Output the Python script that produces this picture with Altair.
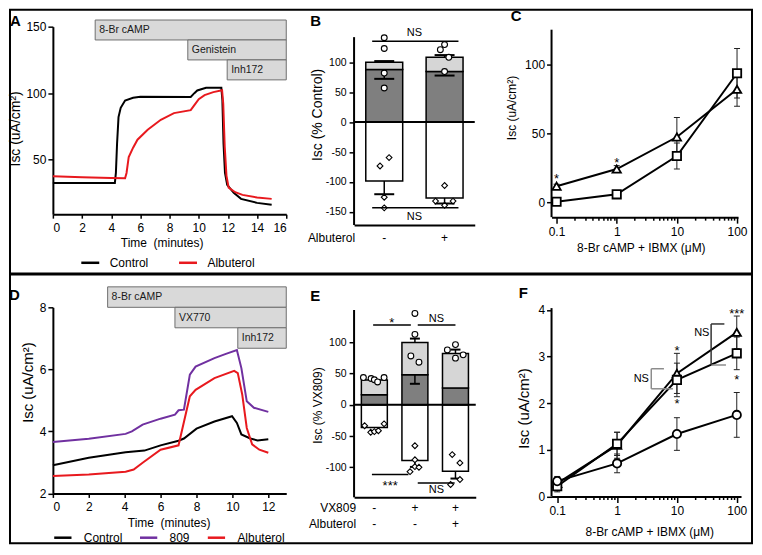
import altair as alt
import pandas as pd

FONT = "Liberation Sans"
RED = "#e8191e"
PURPLE = "#7030a0"
BAR_DARK = "#7f7f7f"
BAR_LIGHT = "#d6d6d6"
BOX_FILL = "#d9d9d9"
BOX_LINE = "#6e6e6e"

# ---------------- Panel A : traces ----------------
a_ctrl_t = [0, 4.25, 4.32, 4.4, 4.5, 4.65, 4.95, 5.5, 6.0, 9.45, 9.7, 9.9, 10.5, 11.55, 11.62, 11.7, 11.8, 11.95, 12.4, 12.9, 14.0, 15.0]
a_ctrl_v = [32.5, 32.5, 40, 62, 82, 89, 94.5, 96.5, 97.3, 97.2, 100, 102, 104, 104, 95, 62, 40, 31, 25, 20.5, 17.5, 16]
a_alb_t = [0, 2, 4, 4.95, 5.05, 5.2, 5.5, 5.8, 6.5, 7.4, 8.3, 9.45, 9.7, 10.0, 10.4, 11.0, 11.6, 11.68, 11.78, 11.9, 12.05, 12.5, 13, 14, 15]
a_alb_v = [37.5, 36.8, 36.2, 36, 40, 52, 59, 65, 72.5, 80, 85, 87.2, 91, 95.5, 98.5, 100.8, 102.2, 92, 60, 38, 29, 25.5, 23.5, 21.5, 20.5]
a_series = ["Control", "Albuterol"]
a_drugs = ["8-Br cAMP", "Genistein", "Inh172"]
a_drug_on = [2.9, 9.25, 11.95]
a_drug_off = [16, 16, 16]

# ---------------- Panel D : traces ----------------
d_ctrl_t = [0, 2, 4.05, 5.1, 6, 7, 7.3, 8, 9, 9.98, 10.25, 10.5, 11, 11.4, 12]
d_ctrl_v = [2.91, 3.15, 3.33, 3.38, 3.55, 3.70, 3.77, 4.09, 4.32, 4.49, 4.27, 3.90, 3.77, 3.71, 3.75]
d_809_t = [0, 2, 4.05, 4.4, 5.0, 6, 6.8, 7.0, 7.3, 7.63, 7.95, 9, 9.6, 10.25, 10.5, 10.8, 11.2, 12]
d_809_v = [3.66, 3.76, 3.92, 4.0, 4.22, 4.41, 4.54, 4.68, 4.70, 5.83, 6.09, 6.36, 6.49, 6.62, 6.04, 4.97, 4.76, 4.63]
d_alb_t = [0, 2, 4.05, 4.5, 5.0, 6, 7.0, 7.63, 7.95, 9, 10.1, 10.3, 10.55, 10.8, 11.1, 11.5, 12]
d_alb_v = [2.56, 2.61, 2.70, 2.77, 2.99, 3.41, 3.55, 5.13, 5.34, 5.72, 5.95, 5.88, 5.18, 4.11, 3.58, 3.41, 3.31]
d_series = ["Control", "809", "Albuterol"]
d_drugs = ["8-Br cAMP", "VX770", "Inh172"]
d_drug_on = [3.05, 6.8, 10.3]
d_drug_off = [13, 13, 13]

# ---------------- Panel B : stacked bars ----------------
b_albuterol = ["-", "+"]
b_light = [100, 108.5]
b_dark = [88, 84.5]
b_neg = [-98.3, -126.7]
b_light_err = [102, 112]
b_dark_err = [72.3, 77.8]
b_neg_err = [-120.5, -136]
b_circ_grp = [0, 0, 0, 0, 1, 1, 1, 1]
b_circ_val = [141, 123, 82, 57, 129.5, 121, 108.3, 84.5]
b_circ_jit = [0, 0, 0, 0, 0, -0.07, 0.07, 0]
b_diam_grp = [0, 0, 0, 0, 1, 1, 1, 1]
b_diam_val = [-59.3, -73.3, -125.5, -143.3, -106, -132, -132, -139]
b_diam_jit = [0.08, -0.07, 0, 0, 0, -0.15, 0.14, 0]
b_sig_label = ["NS", "NS"]
b_sig_y = [135, -143.3]
b_sig_from = [-0.2, -0.2]
b_sig_to = [1.23, 1.23]
b_sig_text_y = [149, -158]

# ---------------- Panel E : stacked bars ----------------
e_vx809 = ["-", "+", "+"]
e_albuterol = ["-", "-", "+"]
e_light = [39.4, 99.6, 81.8]
e_dark = [16, 47.9, 26.6]
e_neg = [-36.2, -89.3, -106.4]
e_light_err = [None, 105.8, 88.2]
e_dark_err = [None, 33.5, None]
e_neg_err = [None, -99.4, -118]
e_circ_grp = [0, 0, 0, 0, 0, 1, 1, 1, 1, 2, 2, 2, 2]
e_circ_val = [43.5, 42, 40, 36.5, 43.5, 146, 112.6, 78, 68, 96.2, 87.7, 79.8, 74.5]
e_circ_jit = [-0.27, -0.08, 0.0, 0.08, 0.24, 0, 0, -0.1, 0.1, 0, -0.2, 0.19, 0]
e_diam_grp = [0, 0, 0, 0, 0, 1, 1, 1, 1, 1, 2, 2, 2, 2]
e_diam_val = [-33.5, -44, -43, -41.5, -30.5, -65.5, -88, -99, -107, -100, -79.7, -93, -119.6, -127.6]
e_diam_jit = [-0.24, -0.09, 0.0, 0.1, 0.24, 0, 0, 0, -0.12, 0.1, -0.08, 0.11, 0.11, -0.12]
e_sig_label = ["*", "NS", "***", "NS"]
e_sig_from = [-0.03, 1.07, -0.06, 1.07]
e_sig_to = [0.9, 2.0, 0.84, 1.98]
e_sig_y = [127.6, 127.6, -111.6, -125]
e_sig_text_x = [0.43, 1.53, 0.39, 1.53]
e_sig_text_y = [137, 137, -124, -137]

# ---------------- Panel C : dose response ----------------
conc = [0.1, 1, 10, 100]
c_tri = [11.5, 24, 47.3, 82]
c_tri_err = [1.5, 2.5, 14.3, 12.3]
c_sq = [0.2, 5.6, 33.5, 93.7]
c_sq_err = [0.8, 1.0, 9.5, 18]
c_star_x = [0.1, 1]
c_star_y = [19.5, 31.5]
c_star_label = ["*", "*"]

# ---------------- Panel F : dose response ----------------
f_tri = [0.28, 1.1, 2.64, 3.52]
f_tri_err = [0.1, 0.28, 0.43, 0.35]
f_sq = [0.22, 1.13, 2.5, 3.07]
f_sq_err = [0.12, 0.25, 0.36, 0.35]
f_circ = [0.33, 0.71, 1.34, 1.75]
f_circ_err = [0.1, 0.2, 0.35, 0.48]
f_star_x = [100, 10, 10, 100]
f_star_y = [4.0, 3.2, 2.07, 2.59]
f_star_label = ["***", "*", "*", "*"]
f_br_gray_x1 = [3.73, 3.73, 3.73, 37.3]
f_br_gray_x2 = [3.73, 6.07, 8.58, 66.0]
f_br_gray_y1 = [2.31, 2.74, 2.31, 2.82]
f_br_gray_y2 = [2.74, 2.74, 2.31, 2.82]
f_br_dark_x1 = [37.3, 37.3]
f_br_dark_x2 = [37.3, 62.1]
f_br_dark_y1 = [2.82, 3.70]
f_br_dark_y2 = [3.70, 3.70]
f_ns_x = [3.41, 34.9]
f_ns_y = [2.52, 3.50]

# ---------------- layout constants (plot areas) ----------------
A_W, A_H = 234, 188
B_W, B_H = 121, 198.9
C_W, C_H = 187, 191
D_W, D_H = 234, 186.6
E_W, E_H = 122, 190.5
F_W, F_H = 190, 189.7

ONE = pd.DataFrame({"k": [0]})
MINUS_FIX = "replace(datum.label, '\u2212', '-')"


def ax(**kw):
    base = dict(labelFont=FONT, titleFont=FONT, labelFontSize=12, titleFontSize=12,
                domainColor="black", domainWidth=2, tickColor="black", tickWidth=1.5,
                tickSize=5, labelColor="black", titleColor="black",
                titleFontWeight="normal", grid=False, labelPadding=2,
                titleBaseline="middle", titleAlign="center")
    base.update(kw)
    return alt.Axis(**base)


def letter(txt, x, y):
    return alt.Chart(pd.DataFrame({"l": [txt]})).mark_text(
        align="left", baseline="alphabetic", fontSize=15, fontWeight="bold",
        font=FONT, color="black").encode(text="l:N", x=alt.value(x), y=alt.value(y))


def spacer(w, h):
    return alt.Chart(ONE).mark_point(opacity=0).encode(
        x=alt.value(0), y=alt.value(0)).properties(width=w, height=h)


def yaxis_line(lo, hi, ys, ya):
    d = pd.DataFrame({"lo": [lo], "hi": [hi]})
    return alt.Chart(d).mark_rule(strokeWidth=2, color="black").encode(
        x=alt.value(0), y=alt.Y("lo:Q", scale=ys, axis=ya), y2="hi:Q")


# ---------------- trace panels ----------------
def trace_panel(series, ts, vs, colors, legend, drugs, on, off, xdom, xticks,
                ydom, yticks, ytitle, box_top, box_h, xa_kw, ya_kw, lab):
    rows = []
    for name, t, v in zip(series, ts, vs):
        for i, (tt, vv) in enumerate(zip(t, v)):
            rows.append({"t": tt, "v": vv, "s": name, "i": i})
    df = pd.DataFrame(rows)
    bx = pd.DataFrame({"drug": drugs, "on": on, "off": off, "row": list(range(len(drugs)))})
    xs = alt.Scale(domain=xdom, nice=False, zero=False)
    ys = alt.Scale(domain=ydom, nice=False, zero=False)
    xa = ax(values=xticks, title="Time\u00a0 (minutes)", tickSize=4, labelPadding=4, **xa_kw)
    ya = ax(values=yticks, title=ytitle, **ya_kw)
    base = alt.Chart(bx).transform_calculate(
        top=f"{box_top} - {box_h} * datum.row",
        bot=f"{box_top} - {box_h} * (datum.row + 1)",
        mid=f"{box_top} - {box_h} * (datum.row + 0.5)")
    rect = base.mark_rect(fill=BOX_FILL, stroke=BOX_LINE, strokeWidth=1).encode(
        x=alt.X("on:Q", scale=xs, axis=xa), x2="off:Q",
        y=alt.Y("top:Q", scale=ys, axis=ya), y2="bot:Q")
    txt = base.mark_text(align="left", baseline="middle", dx=4, fontSize=10.5,
                         font=FONT, color="#1a1a1a").encode(
        x=alt.X("on:Q", scale=xs, axis=xa), y=alt.Y("mid:Q", scale=ys, axis=ya),
        text="drug:N")
    lines = alt.Chart(df).mark_line(strokeWidth=2).encode(
        x=alt.X("t:Q", scale=xs, axis=xa), y=alt.Y("v:Q", scale=ys, axis=ya),
        color=alt.Color("s:N", scale=alt.Scale(domain=series, range=colors), legend=legend),
        order="i:Q")
    return [rect, txt, lines, lab]


legA = alt.Legend(orient="none", legendX=27, legendY=226, direction="horizontal", title=None,
                  symbolType="stroke", symbolStrokeWidth=2.5, symbolSize=324,
                  labelFontSize=12, labelFont=FONT, labelColor="black",
                  columnPadding=25, labelOffset=9, padding=0)
legD = alt.Legend(orient="none", legendX=0, legendY=221, direction="horizontal", title=None,
                  symbolType="stroke", symbolStrokeWidth=2.5, symbolSize=300,
                  labelFontSize=12, labelFont=FONT, labelColor="black",
                  columnPadding=12, labelOffset=11, padding=0)

frame = alt.Chart(ONE).mark_rect(fill="transparent", stroke="black", strokeWidth=2).encode(
    x=alt.value(-43), x2=alt.value(701), y=alt.value(-17), y2=alt.value(518))
divider = alt.Chart(ONE).mark_rule(strokeWidth=3, color="black").encode(
    x=alt.value(-43), x2=alt.value(701), y=alt.value(248))

layersA = trace_panel(a_series, [a_ctrl_t, a_alb_t], [a_ctrl_v, a_alb_v], ["black", RED], legA,
                      a_drugs, a_drug_on, a_drug_off, [0, 16], list(range(0, 17, 2)),
                      [9, 150], [50, 100, 150], "Isc (uA/cm\u00b2)", 155, 15,
                      dict(titleX=109, titleY=28),
                      dict(titleX=-37, titleY=102, titleFontSize=14),
                      letter("A", -43, -1))
panelA = alt.layer(frame, divider, *layersA).properties(width=A_W, height=A_H)

layersD = trace_panel(d_series, [d_ctrl_t, d_809_t, d_alb_t], [d_ctrl_v, d_809_v, d_alb_v],
                      ["black", PURPLE, RED], legD,
                      d_drugs, d_drug_on, d_drug_off, [0, 13], list(range(0, 13, 2)),
                      [2, 8], [2, 4, 6, 8], "Isc (uA/cm\u00b2)", 8.66, 0.66,
                      dict(titleX=116, titleY=29.5),
                      dict(titleX=-25, titleY=75, titleFontSize=15),
                      letter("D", -44, -7))
panelD = alt.layer(*layersD).properties(width=D_W, height=D_H)


# ---------------- bar panels ----------------
def bar_panel(n, light, dark, neg, le, de, ne, cgrp, cval, cjit, dgrp, dval, djit,
              sig_from, sig_to, sig_y, sig_lab, sig_tx, sig_ty, ydom, axis_hi, yticks,
              w, h, hw, cap, ya_kw, lab, row_labels, row_ys, right_x):
    xs = alt.Scale(domain=[-0.5, n - 0.5], nice=False, zero=False)
    ys = alt.Scale(domain=ydom, nice=False, zero=False)
    xa = ax(title=None, labels=False, ticks=False)
    ya = ax(values=yticks, labelExpr=MINUS_FIX, domain=False, labelPadding=3, **ya_kw)
    bars = pd.DataFrame({"g": list(range(n)), "light": light, "dark": dark, "neg": neg,
                         "le": le, "de": de, "ne": ne, "zero": [0] * n})
    bb = alt.Chart(bars).transform_calculate(x1=f"datum.g - {hw}", x2=f"datum.g + {hw}")
    X1 = alt.X("x1:Q", scale=xs, axis=xa)
    G = alt.X("g:Q", scale=xs, axis=xa)

    def Y(f):
        return alt.Y(f, scale=ys, axis=ya)

    layers = [
        bb.mark_rect(fill="white", stroke="black", strokeWidth=1.5).encode(x=X1, x2="x2:Q", y=Y("zero:Q"), y2="neg:Q"),
        bb.mark_rect(fill=BAR_DARK, stroke="black", strokeWidth=1.5).encode(x=X1, x2="x2:Q", y=Y("zero:Q"), y2="dark:Q"),
        bb.mark_rect(fill=BAR_LIGHT, stroke="black", strokeWidth=1.5).encode(x=X1, x2="x2:Q", y=Y("dark:Q"), y2="light:Q"),
    ]
    for m, e in (("light", "le"), ("dark", "de"), ("neg", "ne")):
        layers.append(bb.mark_rule(strokeWidth=1.5, color="black").encode(x=G, y=Y(f"{m}:Q"), y2=f"{e}:Q"))
        layers.append(bb.mark_tick(orient="horizontal", size=cap, thickness=2, color="black", opacity=1).encode(x=G, y=Y(f"{e}:Q")))
    zero = pd.DataFrame({"z": [0]})
    layers.append(alt.Chart(zero).mark_rule(strokeWidth=2, color="black").encode(
        y=Y("z:Q"), x=alt.value(0), x2=alt.value(w)))
    layers.append(yaxis_line(ydom[0], axis_hi, ys, ya))
    circ = pd.DataFrame({"g": cgrp, "v": cval, "j": cjit})
    diam = pd.DataFrame({"g": dgrp, "v": dval, "j": djit})
    for d, shp in ((circ, "circle"), (diam, "diamond")):
        layers.append(alt.Chart(d).transform_calculate(xp="datum.g + datum.j").mark_point(
            shape=shp, filled=True, fill="white", stroke="black", strokeWidth=1.1,
            size=34, opacity=1).encode(x=alt.X("xp:Q", scale=xs, axis=xa), y=Y("v:Q")))
    sig = pd.DataFrame({"a": sig_from, "b": sig_to, "y": sig_y, "lab": sig_lab,
                        "tx": sig_tx, "ty": sig_ty})
    layers.append(alt.Chart(sig).mark_rule(strokeWidth=1.5, color="black").encode(
        x=alt.X("a:Q", scale=xs, axis=xa), x2="b:Q", y=Y("y:Q")))
    layers.append(alt.Chart(sig).transform_filter("datum.lab == 'NS'").mark_text(
        fontSize=11, font=FONT, baseline="middle", color="black").encode(
        x=alt.X("tx:Q", scale=xs, axis=xa), y=Y("ty:Q"), text="lab:N"))
    layers.append(alt.Chart(sig).transform_filter("datum.lab != 'NS'").mark_text(
        fontSize=13, font=FONT, baseline="middle", dy=4, color="black").encode(
        x=alt.X("tx:Q", scale=xs, axis=xa), y=Y("ty:Q"), text="lab:N"))
    for (title, labels), yy in zip(row_labels, row_ys):
        layers.append(alt.Chart(pd.DataFrame({"t": [title]})).mark_text(
            align="right", baseline="middle", fontSize=12, font=FONT, color="black").encode(
            text="t:N", x=alt.value(right_x), y=alt.value(yy)))
        layers.append(alt.Chart(pd.DataFrame({"g": list(range(n)), "s": labels})).mark_text(
            baseline="middle", fontSize=12, font=FONT, color="black").encode(
            x=G, text="s:N", y=alt.value(yy)))
    layers.append(lab)
    return alt.layer(*layers).properties(width=w, height=h)


# B plot starts 10.5 px lower than A: extend the domain upward and draw the axis line itself
panelB = bar_panel(2, b_light, b_dark, b_neg, b_light_err, b_dark_err, b_neg_err,
                   b_circ_grp, b_circ_val, b_circ_jit, b_diam_grp, b_diam_val, b_diam_jit,
                   b_sig_from, b_sig_to, b_sig_y, b_sig_label, [0.5, 0.5], b_sig_text_y,
                   [-172, 159.5], 142, [-150, -100, -50, 0, 50, 100], B_W, B_H, 0.306, 20,
                   dict(title="Isc (% Control)", titleX=-37, titleY=88, titleFontSize=14,
                        labelFontSize=10.5),
                   letter("B", -44, -1), [("Albuterol", b_albuterol)], [212.3], 1)

panelE = bar_panel(3, e_light, e_dark, e_neg, e_light_err, e_dark_err, e_neg_err,
                   e_circ_grp, e_circ_val, e_circ_jit, e_diam_grp, e_diam_val, e_diam_jit,
                   e_sig_from, e_sig_to, e_sig_y, e_sig_label, e_sig_text_x, e_sig_text_y,
                   [-148, 155.8], 151.5, [-100, -50, 0, 50, 100], E_W, E_H, 0.32, 10,
                   dict(title="Isc (% VX809)", titleX=-37, titleY=98, titleFontSize=12,
                        labelFontSize=10.5),
                   letter("E", -44, -6.3),
                   [("VX809", e_vx809), ("Albuterol", e_albuterol)], [201, 217], 2)


# ---------------- dose-response panels ----------------
LOG_TICKS = [round(m * 10 ** e, 4) for e in (-1, 0, 1) for m in range(1, 10)] + [100]
MAJOR = "indexof([0.1, 1, 10, 100], datum.value) >= 0"


def dose_panel(series, shapes, vals, errs, xdom, ydom, axis_hi, yticks, w, h, xa_kw, ya_kw,
               stars, lab, extra=None):
    rows = []
    for s, v, e in zip(series, vals, errs):
        for c, vv, ee in zip(conc, v, e):
            rows.append({"c": c, "v": vv, "lo": vv - ee, "hi": vv + ee, "s": s})
    df = pd.DataFrame(rows)
    xs = alt.Scale(type="log", domain=xdom, nice=False)
    ys = alt.Scale(domain=ydom, nice=False, zero=False)
    xa = ax(values=LOG_TICKS, title="8-Br cAMP + IBMX (\u03bcM)",
            labelExpr=f"{MAJOR} ? datum.value : ''", labelPadding=3,
            tickSize={"condition": {"test": MAJOR, "value": 6}, "value": 3}, **xa_kw)
    ya = ax(values=yticks, title="Isc (uA/cm\u00b2)", domain=False, **ya_kw)
    X = alt.X("c:Q", scale=xs, axis=xa)
    base = alt.Chart(df)
    layers = [
        yaxis_line(ydom[0], axis_hi, ys, ya),
        base.mark_rule(strokeWidth=1, color="#222222").encode(x=X, y=alt.Y("lo:Q", scale=ys, axis=ya), y2="hi:Q"),
        base.mark_tick(orient="horizontal", size=6, thickness=1, color="#222222", opacity=1).encode(x=X, y=alt.Y("lo:Q", scale=ys, axis=ya)),
        base.mark_tick(orient="horizontal", size=6, thickness=1, color="#222222", opacity=1).encode(x=X, y=alt.Y("hi:Q", scale=ys, axis=ya)),
        base.mark_line(strokeWidth=2, color="black").encode(x=X, y=alt.Y("v:Q", scale=ys, axis=ya), detail="s:N"),
    ]
    if extra is not None:
        layers.extend(extra(xs, xa, ys, ya))
    layers.append(base.mark_point(filled=True, fill="white", stroke="black", strokeWidth=1.8,
                                  size=70, opacity=1).encode(
        x=X, y=alt.Y("v:Q", scale=ys, axis=ya),
        shape=alt.Shape("s:N", scale=alt.Scale(domain=series, range=shapes), legend=None)))
    sx, sy, sl = stars
    st = pd.DataFrame({"x": sx, "y": sy, "l": sl})
    layers.append(alt.Chart(st).mark_text(fontSize=13, font=FONT, baseline="middle", dy=4,
                                          color="black").encode(
        x=alt.X("x:Q", scale=xs, axis=xa), y=alt.Y("y:Q", scale=ys, axis=ya), text="l:N"))
    layers.append(lab)
    return alt.layer(*layers).properties(width=w, height=h)


def f_brackets(xs, xa, ys, ya):
    out = []
    for x1, x2, y1, y2, col in ((f_br_gray_x1, f_br_gray_x2, f_br_gray_y1, f_br_gray_y2, "#8c8c8c"),
                                (f_br_dark_x1, f_br_dark_x2, f_br_dark_y1, f_br_dark_y2, "#333333")):
        br = pd.DataFrame({"x1": x1, "x2": x2, "y1": y1, "y2": y2})
        out.append(alt.Chart(br).mark_rule(strokeWidth=1.5, color=col).encode(
            x=alt.X("x1:Q", scale=xs, axis=xa), x2="x2:Q",
            y=alt.Y("y1:Q", scale=ys, axis=ya), y2="y2:Q"))
    ns = pd.DataFrame({"x": f_ns_x, "y": f_ns_y, "l": ["NS", "NS"]})
    out.append(alt.Chart(ns).mark_text(fontSize=11, font=FONT, align="right", baseline="middle",
                                       color="black").encode(
        x=alt.X("x:Q", scale=xs, axis=xa), y=alt.Y("y:Q", scale=ys, axis=ya), text="l:N"))
    return out


panelC = dose_panel(["Albuterol", "Control"], ["triangle-up", "square"], [c_tri, c_sq],
                    [c_tri_err, c_sq_err], [0.0826, 103.9], [-11, 127.6], 125.4, [0, 50, 100],
                    C_W, C_H, dict(titleX=89.5, titleY=30),
                    dict(titleX=-40, titleY=81),
                    (c_star_x, c_star_y, c_star_label), letter("C", -41, -5.3))

panelF = dose_panel(["809+Albuterol", "809", "Control"], ["triangle-up", "square", "circle"],
                    [f_tri, f_sq, f_circ], [f_tri_err, f_sq_err, f_circ_err],
                    [0.0804, 117.9], [0, 4.057], 4.04, [0, 1, 2, 3, 4], F_W, F_H,
                    dict(titleX=98, titleY=35),
                    dict(titleX=-28, titleY=101, titleFontSize=15),
                    (f_star_x, f_star_y, f_star_label), letter("F", -33, -9),
                    extra=f_brackets)

chart = alt.concat(
    panelA, spacer(68, 1), panelB, spacer(76, 1), panelC,
    panelD, spacer(68, 1), panelE, spacer(64, 1), panelF,
    columns=5, align="none", bounds="flush", spacing={"row": 82.4, "column": 0},
).resolve_scale(color="independent", shape="independent").properties(
    padding=0
).configure(font=FONT).configure_view(stroke=None)

chart.save("out.html", embed_options={"renderer": "svg", "actions": False})
